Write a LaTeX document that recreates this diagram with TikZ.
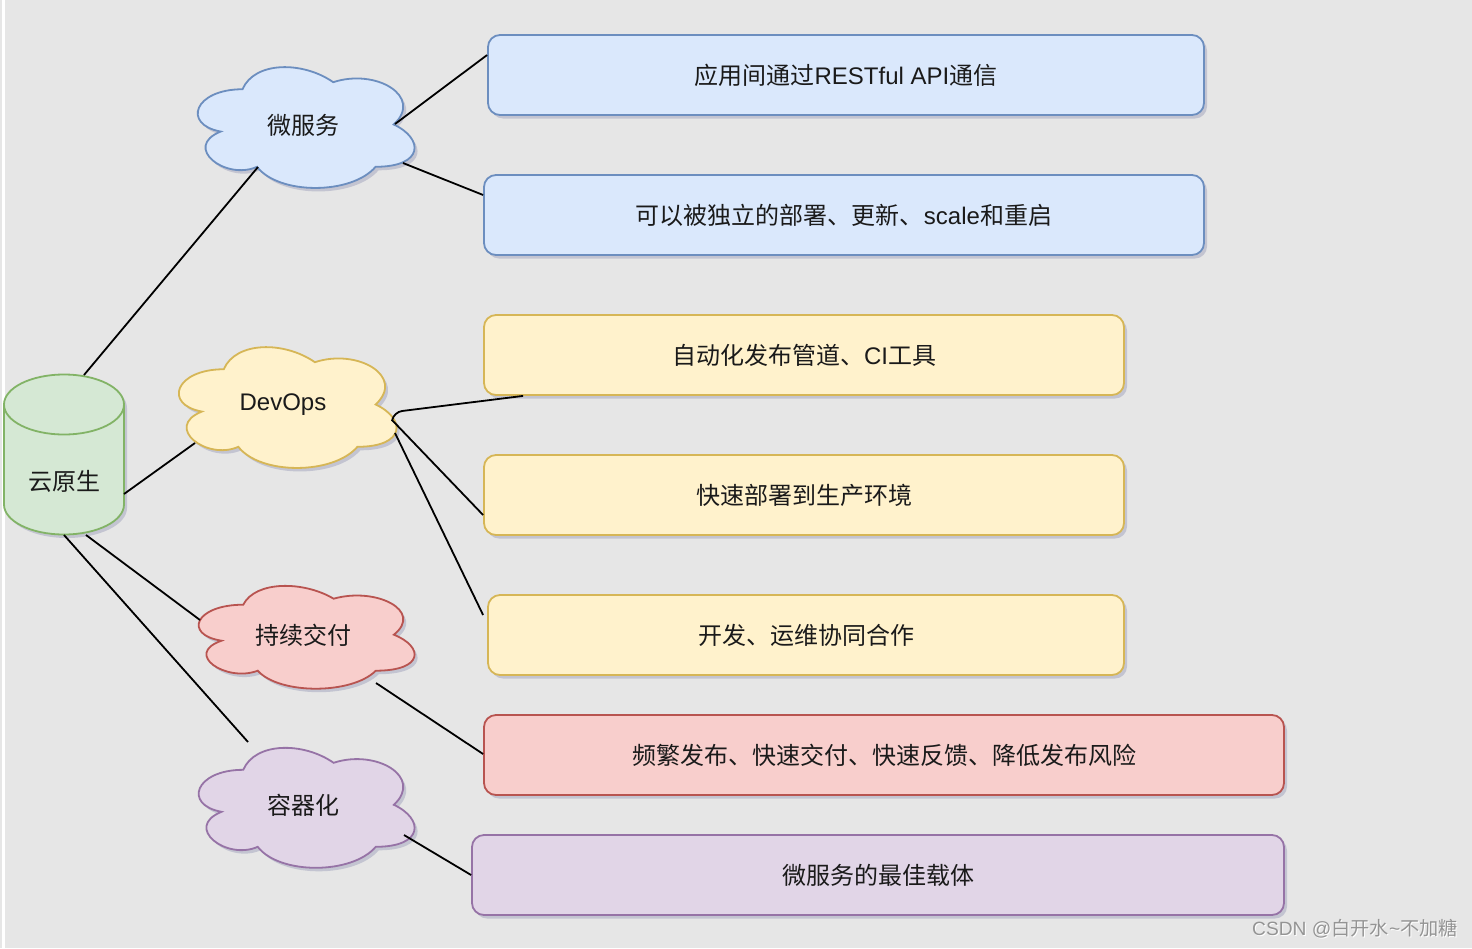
\documentclass[tikz,border=0pt]{standalone}
\usepackage{fontspec}
\setmainfont{Noto Sans CJK SC}
\newfontfamily\lat{Liberation Sans}
\usetikzlibrary{shadows,calc}
\definecolor{bgc}{HTML}{E6E6E6}
\definecolor{txt}{HTML}{1A1A1A}
\definecolor{bluef}{HTML}{DAE8FC}\definecolor{blued}{HTML}{6C8EBF}
\definecolor{yelf}{HTML}{FFF2CC}\definecolor{yeld}{HTML}{D6B656}
\definecolor{redf}{HTML}{F8CECC}\definecolor{redd}{HTML}{B85450}
\definecolor{purf}{HTML}{E1D5E7}\definecolor{purd}{HTML}{9673A6}
\definecolor{grnf}{HTML}{D5E8D4}\definecolor{grnd}{HTML}{82B366}
\definecolor{shd}{HTML}{9A9CB8}
\tikzset{
  shd/.style={drop shadow={shadow xshift=3pt, shadow yshift=-3.5pt, fill=shd, opacity=0.45}},
  box/.style={rectangle, rounded corners=12pt, line width=1.8pt, minimum height=80pt, text=txt, font=\fontsize{24}{29}\selectfont, shd},
  bluebox/.style={box, fill=bluef, draw=blued},
  yelbox/.style={box, fill=yelf, draw=yeld},
  redbox/.style={box, fill=redf, draw=redd},
  purbox/.style={box, fill=purf, draw=purd},
  lbl/.style={text=txt, font=\fontsize{24}{29}\selectfont, inner sep=0pt},
  link/.style={line width=1.8pt, black},
}
\newcommand\cloudshape[4]{%
  \begin{scope}[shift={#1}, x={(#2pt,0pt)}, y={(0pt,-#3pt)}]
  \path[#4] (-0.25,-0.25) .. controls (-0.45,-0.25) and (-0.5,0) .. (-0.34,0.05)
    .. controls (-0.5,0.16) and (-0.32,0.4) .. (-0.19,0.3)
    .. controls (-0.1,0.5) and (0.2,0.5) .. (0.3,0.3)
    .. controls (0.5,0.3) and (0.5,0.1) .. (0.375,0)
    .. controls (0.5,-0.2) and (0.3,-0.4) .. (0.125,-0.3)
    .. controls (0,-0.45) and (-0.2,-0.45) .. (-0.25,-0.25) -- cycle;
  \end{scope}}
\begin{document}
\begin{tikzpicture}[x=1pt,y=-1pt]
\useasboundingbox (0,0) rectangle (1472,948);
\fill[bgc] (0,0) rectangle (1472,948);
\fill[white] (2,0) rectangle (4.5,948);

% cylinder
\path[fill=grnf, draw=grnd, line width=1.8pt, shd] (4,404.5) -- (4,504.5)
  arc[start angle=180, end angle=0, x radius=60, y radius=30] -- (124,404.5)
  arc[start angle=0, end angle=-180, x radius=60, y radius=30] -- cycle;
\draw[grnd, line width=1.8pt] (4,404.5) arc[start angle=180, end angle=0, x radius=60, y radius=30];
\node[lbl] (cyl) at (64,481) {云原生};
\coordinate (cylc) at (64,455);

% clouds
\cloudshape{(303,124.5)}{242}{141}{fill=bluef, draw=blued, line width=1.8pt, shd}
\node[lbl] (ms) at (303,125) {微服务};
\cloudshape{(284.5,404.5)}{243}{141}{fill=yelf, draw=yeld, line width=1.8pt, shd}
\node[lbl] (dv) at (283,405) {\lat DevOps};
\cloudshape{(303.5,634.7)}{241}{120}{fill=redf, draw=redd, line width=1.8pt, shd}
\node[lbl] (cd) at (303,635) {持续交付};
\cloudshape{(303.5,804.8)}{241}{140}{fill=purf, draw=purd, line width=1.8pt, shd}
\node[lbl] (rq) at (303,805) {容器化};

% boxes
\node[bluebox, minimum width=716pt] (b1) at (846,75) {应用间通过\lat RESTful API\rmfamily 通信};
\node[bluebox, minimum width=720pt] (b2) at (844,215) {可以被独立的部署、更新、\lat scale\rmfamily 和重启};
\node[yelbox, minimum width=640pt] (b3) at (804,355) {自动化发布管道、\lat CI\rmfamily 工具};
\node[yelbox, minimum width=640pt] (b4) at (804,495) {快速部署到生产环境};
\node[yelbox, minimum width=636pt] (b5) at (806,635) {开发、运维协同合作};
\node[redbox, minimum width=800pt] (b6) at (884,755) {频繁发布、快速交付、快速反馈、降低发布风险};
\node[purbox, minimum width=812pt] (b7) at (878,875) {微服务的最佳载体};

% connectors
\draw[link] ($(cylc)+(20,-80)$) -- ($(ms)+(-45,42)$);
\draw[link] ($(cylc)+(60,39)$) -- ($(dv)+(-88,38)$);
\draw[link] ($(cylc)+(22,80)$) -- ($(cd)+(-103,-15)$);
\draw[link] ($(cylc)+(0,80)$) -- ($(rq)+(-55,-63)$);
\draw[link] ($(ms)+(92,-1)$) -- ($(b1.west)+(0,-20)$);
\draw[link] ($(ms)+(100,38)$) -- ($(b2.west)+(0,-20)$);
\draw[link, rounded corners=8pt] ($(dv)+(109,16)$) -- ($(dv)+(111,7)$) -- ($(b3.south west)+(40,0)$);
\draw[link] ($(dv)+(109,15)$) -- ($(b4.west)+(0,20)$);
\draw[link] ($(dv)+(112,28)$) -- ($(b5.west)+(-4,-20)$);
\draw[link] ($(cd)+(73,48)$) -- ($(b6.west)+(0,-1)$);
\draw[link] ($(rq)+(101,30)$) -- (b7.west);

% watermark
\node[text=white, font=\fontsize{19.2}{23}\selectfont, inner sep=0pt] (wm0) at (1356,930) {\lat CSDN @\rmfamily 白开水\lat\char`\~\rmfamily 不加糖};
\node[text=black!42, font=\fontsize{19.2}{23}\selectfont, inner sep=0pt] (wm) at (1355,929) {\lat CSDN @\rmfamily 白开水\lat\char`\~\rmfamily 不加糖};
\end{tikzpicture}
\end{document}
